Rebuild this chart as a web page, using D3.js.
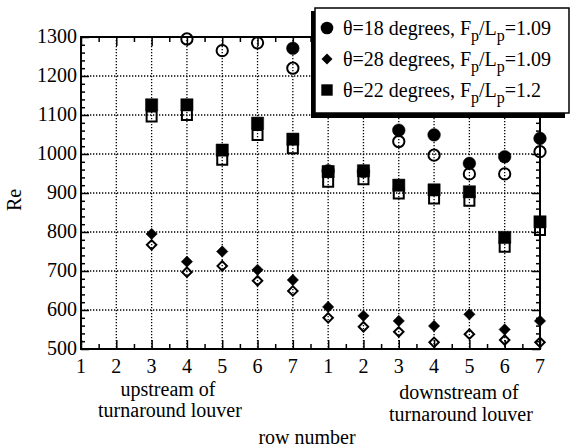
<!DOCTYPE html>
<html>
<head>
<meta charset="utf-8">
<script src="https://cdn.jsdelivr.net/npm/d3@7"></script>
<style>
  body { margin: 0; background: #fff; }
</style>
</head>
<body>
<div id="main"></div>
<script>
// row positions 1..14 (upstream rows 1-7, then downstream rows 1-7)
const rows = d3.range(1, 15);
const xLabels = ["1","2","3","4","5","6","7","1","2","3","4","5","6","7"];
const yTicks = [500, 600, 700, 800, 900, 1000, 1100, 1200, 1300];

// theta=18, Fp/Lp=1.09 (filled / open)
const circleFilled = [null, null, null, null, null, null, 1271, 957, 955, 1061, 1049, 976, 993, 1040];
const circleOpen   = [null, null, null, 1295, 1265, 1285, 1220, null, null, 1032, 997, 949, 949, 1006];
// theta=28, Fp/Lp=1.09
const diamondFilled = [null, null, 795, 724, 750, 703, 677, 608, 585, 572, 559, 589, 550, 572];
const diamondOpen   = [null, null, 767, 697, 713, 675, 649, 580, 557, 544, 517, 538, 523, 517];
// theta=22, Fp/Lp=1.2
const squareFilled = [null, null, 1126, 1126, 1010, 1079, 1038, 955, 957, 920, 908, 903, 786, 826];
const squareOpen   = [null, null, 1096, 1100, 985, 1049, 1015, 929, 935, 899, 886, 880, 762, 805];

const legendLabels = ["18", "28", "22"];
const legendRatios = ["1.09", "1.09", "1.2"];

const W = 571, H = 448;
const pLeft = 81, pRight = 540, pTop = 37, pBottom = 349;
const fs = 20;

const svg = d3.select("#main").append("svg")
    .attr("width", W).attr("height", H)
    .attr("font-family", "'Liberation Serif', 'Times New Roman', Times, serif");

const x = d3.scaleLinear().domain([1, 14]).range([pLeft, pRight]);
const y = d3.scaleLinear().domain([500, 1300]).range([pBottom, pTop]);

/* grid */
svg.append("g").selectAll("line")
    .data(rows.slice(1, -1)).enter().append("line")
    .attr("x1", d => x(d)).attr("x2", d => x(d))
    .attr("y1", pTop).attr("y2", pBottom)
    .attr("stroke", "#000").attr("stroke-width", 1.3)
    .attr("stroke-dasharray", "1.3,1.7");
svg.append("g").selectAll("line")
    .data(yTicks.slice(1, -1)).enter().append("line")
    .attr("x1", pLeft).attr("x2", pRight)
    .attr("y1", d => y(d)).attr("y2", d => y(d))
    .attr("stroke", "#000").attr("stroke-width", 1.3)
    .attr("stroke-dasharray", "1.3,1.7");

/* axes: ticks inward on all four sides */
const xMinor = d3.range(1.5, 14, 1);
const yMinor = d3.range(500, 1301, 20).filter(v => v % 100 !== 0);

svg.append("g").attr("transform", `translate(0,${pBottom})`)
    .call(d3.axisTop(x).tickValues(rows).tickSize(9).tickFormat(""));
svg.append("g").attr("transform", `translate(0,${pBottom})`)
    .call(d3.axisTop(x).tickValues(xMinor).tickSize(5).tickFormat(""));
svg.append("g").attr("transform", `translate(0,${pTop})`)
    .call(d3.axisBottom(x).tickValues(rows).tickSize(9).tickFormat(""));
svg.append("g").attr("transform", `translate(0,${pTop})`)
    .call(d3.axisBottom(x).tickValues(xMinor).tickSize(5).tickFormat(""));
svg.append("g").attr("transform", `translate(${pLeft},0)`)
    .call(d3.axisRight(y).tickValues(yTicks).tickSize(8).tickFormat(""));
svg.append("g").attr("transform", `translate(${pLeft},0)`)
    .call(d3.axisRight(y).tickValues(yMinor).tickSize(4).tickFormat(""));
svg.append("g").attr("transform", `translate(${pRight},0)`)
    .call(d3.axisLeft(y).tickValues(yTicks).tickSize(8).tickFormat(""));
svg.append("g").attr("transform", `translate(${pRight},0)`)
    .call(d3.axisLeft(y).tickValues(yMinor).tickSize(4).tickFormat(""));

svg.selectAll(".domain").remove();
svg.selectAll(".tick line").attr("stroke", "#000").attr("stroke-width", 1.5);

svg.append("rect")
    .attr("x", pLeft).attr("y", pTop)
    .attr("width", pRight - pLeft).attr("height", pBottom - pTop)
    .attr("fill", "none").attr("stroke", "#000").attr("stroke-width", 2);

/* tick labels */
svg.append("g").selectAll("text")
    .data(rows).enter().append("text")
    .attr("x", d => x(d)).attr("y", pBottom + 24)
    .attr("text-anchor", "middle").attr("font-size", fs)
    .text((d, i) => xLabels[i]);
svg.append("g").selectAll("text")
    .data(yTicks).enter().append("text")
    .attr("x", pLeft - 4).attr("y", d => y(d) + 6)
    .attr("text-anchor", "end").attr("font-size", fs)
    .text(d => d);

/* axis titles */
svg.append("text").attr("x", 168).attr("y", 396)
    .attr("text-anchor", "middle").attr("font-size", fs).text("upstream of");
svg.append("text").attr("x", 170).attr("y", 417)
    .attr("text-anchor", "middle").attr("font-size", fs).text("turnaround louver");
svg.append("text").attr("x", 459).attr("y", 399)
    .attr("text-anchor", "middle").attr("font-size", fs).text("downstream of");
svg.append("text").attr("x", 461).attr("y", 421)
    .attr("text-anchor", "middle").attr("font-size", fs).text("turnaround louver");
svg.append("text").attr("x", 307).attr("y", 444)
    .attr("text-anchor", "middle").attr("font-size", fs).text("row number");
svg.append("text")
    .attr("transform", "translate(21,200) rotate(-90)")
    .attr("text-anchor", "middle").attr("font-size", fs).text("Re");

/* markers */
const shapes = {
    circle: d3.symbol().type(d3.symbolCircle),
    diamond: d3.symbol().type(d3.symbolSquare),
    square: d3.symbol().type(d3.symbolSquare)
};
function drawSeries(vals, shape, size, filled) {
    const pts = rows.map((r, i) => [r, vals[i]]).filter(p => p[1] != null);
    const rot = shape === "diamond" ? " rotate(45)" : "";
    svg.append("g").selectAll("path")
        .data(pts).enter().append("path")
        .attr("transform", p => `translate(${x(p[0])},${y(p[1])})${rot}`)
        .attr("d", shapes[shape].size(size)())
        .attr("fill", filled ? "#000" : "none")
        .attr("stroke", "#000")
        .attr("stroke-width", filled ? 0.5 : 2);
}
drawSeries(circleOpen, "circle", 100, false);
drawSeries(circleFilled, "circle", 125, true);
drawSeries(diamondOpen, "diamond", 45, false);
drawSeries(diamondFilled, "diamond", 64, true);
drawSeries(squareOpen, "square", 100, false);
drawSeries(squareFilled, "square", 150, true);

/* legend */
const lg = svg.append("g");
lg.append("rect").attr("x", 311).attr("y", 11).attr("width", 254).attr("height", 107)
    .attr("fill", "#000");
lg.append("rect").attr("x", 315).attr("y", 8).attr("width", 254).attr("height", 105)
    .attr("fill", "#fff").attr("stroke", "#000").attr("stroke-width", 1.5);
const legendShapes = ["circle", "diamond", "square"];
const legendSizes = [125, 60, 130];
legendLabels.forEach((t, i) => {
    const cy = 28 + i * 31;
    lg.append("path")
        .attr("transform", `translate(327,${cy})` + (i === 1 ? " rotate(45)" : ""))
        .attr("d", shapes[legendShapes[i]].size(legendSizes[i])())
        .attr("fill", "#000");
    const txt = lg.append("text").attr("x", 343).attr("y", cy + 7).attr("font-size", fs);
    txt.append("tspan").text(`θ=${t} degrees, F`);
    txt.append("tspan").attr("dy", 6).attr("font-size", 16).text("p");
    txt.append("tspan").attr("dy", -6).text("/L");
    txt.append("tspan").attr("dy", 6).attr("font-size", 16).text("p");
    txt.append("tspan").attr("dy", -6).text(`=${legendRatios[i]}`);
});
</script>
</body>
</html>
